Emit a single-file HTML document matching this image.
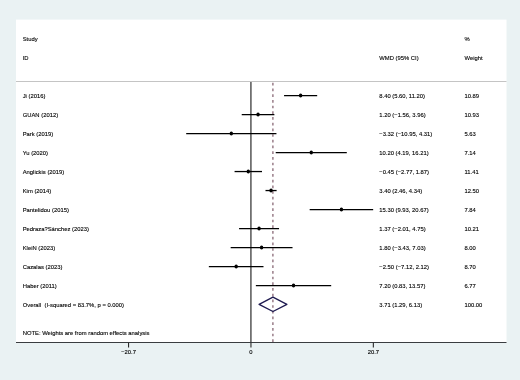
<!DOCTYPE html>
<html><head><meta charset="utf-8"><style>
html,body{margin:0;padding:0;background:#EAF2F3;}
body{width:520px;height:380px;overflow:hidden;}
svg{display:block;}
text{font-family:"Liberation Sans",sans-serif;font-size:6.2px;fill:#000;stroke:#000;stroke-width:0.12px;white-space:pre;}
svg{position:absolute;left:0;top:0;}
#t{filter:grayscale(1);}
</style></head><body>
<svg width="520" height="380" viewBox="0 0 520 380">
<rect x="0" y="0" width="520" height="380" fill="#EAF2F3"/>
<rect x="16" y="19.6" width="490.5" height="322.9" fill="#FFFFFF"/>

<line x1="16" y1="81.5" x2="506.5" y2="81.5" stroke="#c4c4c4" stroke-width="1"/>
<line x1="250.95" y1="82" x2="250.95" y2="342" stroke="#000" stroke-width="1"/>
<line x1="272.89" y1="82.85" x2="272.89" y2="342" stroke="#927480" stroke-width="1.4" stroke-dasharray="2.7 3.0"/>
<line x1="16" y1="342.5" x2="506.5" y2="342.5" stroke="#3a3d40" stroke-width="1.15"/>
<line x1="128.55" y1="342.5" x2="128.55" y2="347.5" stroke="#2a2a2a" stroke-width="1.1"/>
<line x1="250.95" y1="342.5" x2="250.95" y2="347.5" stroke="#2a2a2a" stroke-width="1.1"/>
<line x1="373.35" y1="342.5" x2="373.35" y2="347.5" stroke="#2a2a2a" stroke-width="1.1"/>
<line x1="284.06" y1="95.55" x2="317.18" y2="95.55" stroke="#000" stroke-width="1.3"/>
<ellipse cx="300.62" cy="95.55" rx="1.7" ry="2.0" fill="#000"/>
<line x1="241.73" y1="114.55" x2="274.37" y2="114.55" stroke="#000" stroke-width="1.3"/>
<ellipse cx="258.05" cy="114.55" rx="1.7" ry="2.0" fill="#000"/>
<line x1="186.20" y1="133.55" x2="276.44" y2="133.55" stroke="#000" stroke-width="1.3"/>
<ellipse cx="231.32" cy="133.55" rx="1.7" ry="2.0" fill="#000"/>
<line x1="275.73" y1="152.55" x2="346.80" y2="152.55" stroke="#000" stroke-width="1.3"/>
<ellipse cx="311.26" cy="152.55" rx="1.7" ry="2.0" fill="#000"/>
<line x1="234.57" y1="171.55" x2="262.01" y2="171.55" stroke="#000" stroke-width="1.3"/>
<ellipse cx="248.29" cy="171.55" rx="1.7" ry="2.0" fill="#000"/>
<line x1="265.50" y1="190.55" x2="276.61" y2="190.55" stroke="#000" stroke-width="1.3"/>
<ellipse cx="271.05" cy="190.55" rx="1.7" ry="2.0" fill="#000"/>
<line x1="309.67" y1="209.55" x2="373.17" y2="209.55" stroke="#000" stroke-width="1.3"/>
<ellipse cx="341.42" cy="209.55" rx="1.7" ry="2.0" fill="#000"/>
<line x1="239.06" y1="228.55" x2="279.04" y2="228.55" stroke="#000" stroke-width="1.3"/>
<ellipse cx="259.05" cy="228.55" rx="1.7" ry="2.0" fill="#000"/>
<line x1="230.67" y1="247.55" x2="292.52" y2="247.55" stroke="#000" stroke-width="1.3"/>
<ellipse cx="261.59" cy="247.55" rx="1.7" ry="2.0" fill="#000"/>
<line x1="208.85" y1="266.55" x2="263.49" y2="266.55" stroke="#000" stroke-width="1.3"/>
<ellipse cx="236.17" cy="266.55" rx="1.7" ry="2.0" fill="#000"/>
<line x1="255.86" y1="285.55" x2="331.19" y2="285.55" stroke="#000" stroke-width="1.3"/>
<ellipse cx="293.52" cy="285.55" rx="1.7" ry="2.0" fill="#000"/>
<polygon points="259.10,304.30 272.95,297.20 286.90,304.30 272.95,311.50" fill="none" stroke="#1e1a50" stroke-width="1.35" stroke-linejoin="round"/>
</svg>
<svg id="t" width="520" height="380" viewBox="0 0 520 380">
<text transform="matrix(0.945 0 0 1 128.55 354.40)" text-anchor="middle">−20.7</text>
<text transform="matrix(0.945 0 0 1 250.95 354.40)" text-anchor="middle">0</text>
<text transform="matrix(0.945 0 0 1 373.35 354.40)" text-anchor="middle">20.7</text>
<text transform="matrix(0.945 0 0 1 22.70 41.20)">Study</text>
<text transform="matrix(0.945 0 0 1 22.70 60.20)">ID</text>
<text transform="matrix(0.945 0 0 1 379.30 60.20)">WMD (95% CI)</text>
<text transform="matrix(0.945 0 0 1 464.50 41.20)">%</text>
<text transform="matrix(0.945 0 0 1 464.50 60.20)">Weight</text>
<text transform="matrix(0.945 0 0 1 22.70 98.10)">Ji (2016)</text>
<text transform="matrix(0.945 0 0 1 379.30 98.10)">8.40 (5.60, 11.20)</text>
<text transform="matrix(0.945 0 0 1 464.50 98.10)">10.89</text>
<text transform="matrix(0.945 0 0 1 22.70 117.10)">GUAN (2012)</text>
<text transform="matrix(0.945 0 0 1 379.30 117.10)">1.20 (−1.56, 3.96)</text>
<text transform="matrix(0.945 0 0 1 464.50 117.10)">10.93</text>
<text transform="matrix(0.945 0 0 1 22.70 136.10)">Park (2019)</text>
<text transform="matrix(0.945 0 0 1 379.30 136.10)">−3.32 (−10.95, 4.31)</text>
<text transform="matrix(0.945 0 0 1 464.50 136.10)">5.63</text>
<text transform="matrix(0.945 0 0 1 22.70 155.10)">Yu (2020)</text>
<text transform="matrix(0.945 0 0 1 379.30 155.10)">10.20 (4.19, 16.21)</text>
<text transform="matrix(0.945 0 0 1 464.50 155.10)">7.14</text>
<text transform="matrix(0.945 0 0 1 22.70 174.10)">Anglickis (2019)</text>
<text transform="matrix(0.945 0 0 1 379.30 174.10)">−0.45 (−2.77, 1.87)</text>
<text transform="matrix(0.945 0 0 1 464.50 174.10)">11.41</text>
<text transform="matrix(0.945 0 0 1 22.70 193.10)">Kim (2014)</text>
<text transform="matrix(0.945 0 0 1 379.30 193.10)">3.40 (2.46, 4.34)</text>
<text transform="matrix(0.945 0 0 1 464.50 193.10)">12.50</text>
<text transform="matrix(0.945 0 0 1 22.70 212.10)">Pantelidou (2015)</text>
<text transform="matrix(0.945 0 0 1 379.30 212.10)">15.30 (9.93, 20.67)</text>
<text transform="matrix(0.945 0 0 1 464.50 212.10)">7.84</text>
<text transform="matrix(0.945 0 0 1 22.70 231.10)">Pedraza?Sánchez (2023)</text>
<text transform="matrix(0.945 0 0 1 379.30 231.10)">1.37 (−2.01, 4.75)</text>
<text transform="matrix(0.945 0 0 1 464.50 231.10)">10.21</text>
<text transform="matrix(0.945 0 0 1 22.70 250.10)">KleiN (2023)</text>
<text transform="matrix(0.945 0 0 1 379.30 250.10)">1.80 (−3.43, 7.03)</text>
<text transform="matrix(0.945 0 0 1 464.50 250.10)">8.00</text>
<text transform="matrix(0.945 0 0 1 22.70 269.10)">Cazalas (2023)</text>
<text transform="matrix(0.945 0 0 1 379.30 269.10)">−2.50 (−7.12, 2.12)</text>
<text transform="matrix(0.945 0 0 1 464.50 269.10)">8.70</text>
<text transform="matrix(0.945 0 0 1 22.70 288.10)">Haber (2011)</text>
<text transform="matrix(0.945 0 0 1 379.30 288.10)">7.20 (0.83, 13.57)</text>
<text transform="matrix(0.945 0 0 1 464.50 288.10)">6.77</text>
<text transform="matrix(0.945 0 0 1 22.70 307.10)">Overall  (I-squared = 83.7%, p = 0.000)</text>
<text transform="matrix(0.945 0 0 1 379.30 307.10)">3.71 (1.29, 6.13)</text>
<text transform="matrix(0.945 0 0 1 464.50 307.10)">100.00</text>
<text transform="matrix(0.945 0 0 1 22.70 334.80)">NOTE: Weights are from random effects analysis</text>
</svg>
</body></html>
